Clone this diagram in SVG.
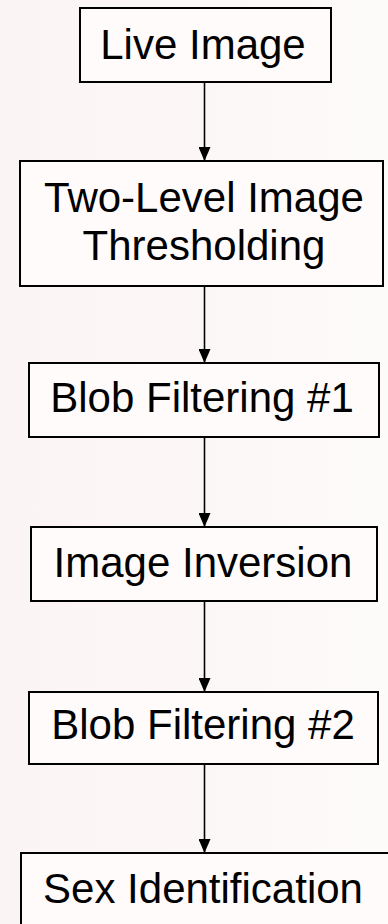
<svg xmlns="http://www.w3.org/2000/svg" width="388" height="924" viewBox="0 0 388 924">
<defs>
<linearGradient id="bg" x1="0" y1="0" x2="1" y2="0">
<stop offset="0" stop-color="#fbf4f4"/>
<stop offset="1" stop-color="#fdfafa"/>
</linearGradient>
<marker id="ah" viewBox="0 0 14 12" refX="14" refY="6" markerWidth="14" markerHeight="12" markerUnits="userSpaceOnUse" orient="auto">
<path d="M0,0 L14,6 L0,12 Z" fill="#000"/>
</marker>
<style>
.box{fill:#fffbfb;stroke:#000;stroke-width:2}
.lbl{font-family:"Liberation Sans",Arial,sans-serif;font-size:42px;fill:#000;text-anchor:middle}
.con{stroke:#000;stroke-width:1.6;fill:none;marker-end:url(#ah)}
</style>
</defs>
<rect width="388" height="924" fill="url(#bg)"/>
<g id="connectors">
<line class="con" x1="204.5" y1="82" x2="204.5" y2="161"/>
<line class="con" x1="204.5" y1="286" x2="204.5" y2="363"/>
<line class="con" x1="204.5" y1="437" x2="204.5" y2="527"/>
<line class="con" x1="204.5" y1="601" x2="204.5" y2="692"/>
<line class="con" x1="204.5" y1="764" x2="204.5" y2="853"/>
</g>
<g id="live-image">
<rect class="box" x="80" y="8" width="251" height="74"/>
<text class="lbl" x="203" y="59">Live Image</text>
</g>
<g id="thresholding">
<rect class="box" x="20" y="161" width="363" height="125"/>
<text class="lbl" x="204" y="212">Two-Level Image</text>
<text class="lbl" x="204" y="260">Thresholding</text>
</g>
<g id="blob1">
<rect class="box" x="29" y="363" width="350" height="74"/>
<text class="lbl" x="202" y="412">Blob Filtering #1</text>
</g>
<g id="inversion">
<rect class="box" x="31" y="527" width="346" height="74"/>
<text class="lbl" x="203" y="577">Image Inversion</text>
</g>
<g id="blob2">
<rect class="box" x="29" y="692" width="349" height="72"/>
<text class="lbl" x="203" y="739">Blob Filtering #2</text>
</g>
<g id="sex-id">
<rect class="box" x="21" y="853" width="380" height="90"/>
<text class="lbl" x="203" y="903">Sex Identification</text>
</g>
</svg>
